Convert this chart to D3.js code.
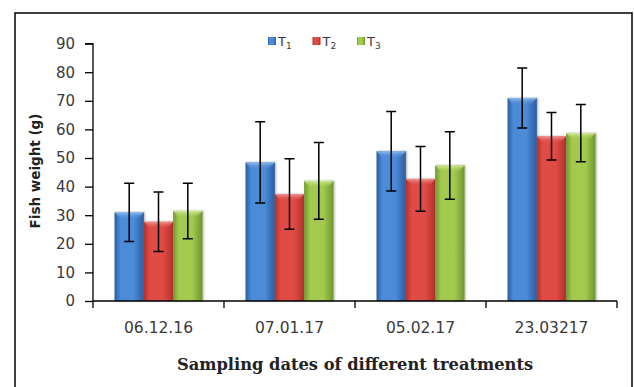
<!DOCTYPE html>
<html>
<head>
<meta charset="utf-8">
<script src="https://cdn.jsdelivr.net/npm/d3@7"></script>
<style>
  body { margin: 0; background: #fff; }
  svg { display: block; }
</style>
</head>
<body>
<svg class="chart" width="634" height="387"></svg>
<script>
// data
let dates = ["06.12.16", "07.01.17", "05.02.17", "23.03217"];
let treatments = ["T1", "T2", "T3"];
let t1Mean = [31, 48.5, 52.4, 71];
let t2Mean = [27.7, 37.4, 42.7, 57.6];
let t3Mean = [31.5, 42, 47.4, 58.7];
let t1Sd = [10.2, 14.2, 13.9, 10.5];
let t2Sd = [10.4, 12.3, 11.3, 8.3];
let t3Sd = [9.7, 13.4, 11.8, 10];
let yTicks = [0, 10, 20, 30, 40, 50, 60, 70, 80, 90];

let means = [t1Mean, t2Mean, t3Mean];
let sds = [t1Sd, t2Sd, t3Sd];

// colours: [edge, middle, highlight]
let colors = {
  T1: ["#2b5d9f", "#4b8bd8", "#9cc4f2"],
  T2: ["#b2302c", "#e04b45", "#f3a09c"],
  T3: ["#6f9630", "#a3ca4f", "#d8ef9c"]
};

let rows = [];
dates.forEach((d, i) => {
  treatments.forEach((t, j) => {
    rows.push({ date: d, key: t, value: means[j][i], sd: sds[j][i] });
  });
});

let svg = d3.select("svg.chart");

let margin = { top: 43.6, left: 93, right: 17, bottom: 86 };
let width = 634, height = 387;

// frame
svg.append("rect")
  .attr("x", 15).attr("y", 13)
  .attr("width", 617).attr("height", 380)
  .attr("fill", "none")
  .attr("stroke", "#000")
  .attr("stroke-width", 1.5);

let x0 = d3.scaleBand()
  .domain(dates)
  .range([margin.left, width - margin.right])
  .padding(0);

let x1 = d3.scaleBand()
  .domain(treatments)
  .range([0, x0.bandwidth()])
  .paddingInner(0)
  .paddingOuter(0.735);

let y = d3.scaleLinear()
  .domain([0, 90])
  .range([height - margin.bottom, margin.top]);

// gradients
let defs = svg.append("defs");
treatments.forEach(t => {
  let g = defs.append("linearGradient")
    .attr("id", "grad-" + t)
    .attr("x1", "0%").attr("x2", "100%").attr("y1", "0%").attr("y2", "0%");
  g.append("stop").attr("offset", "0%").attr("stop-color", colors[t][0]);
  g.append("stop").attr("offset", "20%").attr("stop-color", colors[t][1]);
  g.append("stop").attr("offset", "65%").attr("stop-color", colors[t][1]);
  g.append("stop").attr("offset", "100%").attr("stop-color", colors[t][0]);

  let h = defs.append("linearGradient")
    .attr("id", "top-" + t)
    .attr("x1", "0%").attr("x2", "0%").attr("y1", "0%").attr("y2", "100%");
  h.append("stop").attr("offset", "0%").attr("stop-color", colors[t][2]);
  h.append("stop").attr("offset", "100%").attr("stop-color", colors[t][1]).attr("stop-opacity", 0);
});

let blur = defs.append("filter").attr("id", "shadow")
  .attr("x", "-20%").attr("y", "-5%").attr("width", "140%").attr("height", "110%");
blur.append("feGaussianBlur").attr("in", "SourceAlpha").attr("stdDeviation", 1.2);
blur.append("feOffset").attr("dx", 1).attr("dy", 0).attr("result", "off");
blur.append("feComponentTransfer").append("feFuncA").attr("type", "linear").attr("slope", 0.35);
let merge = blur.append("feMerge");
merge.append("feMergeNode");
merge.append("feMergeNode").attr("in", "SourceGraphic");

// y axis
let yAxis = d3.axisLeft(y).tickValues(yTicks).tickSize(8).tickPadding(10);
let yGroup = svg.append("g")
  .attr("transform", translate(margin.left, 0))
  .call(yAxis);
yGroup.select(".domain").attr("stroke", "#000").attr("stroke-width", 1.3)
  .attr("d", `M-8,${y(90)}H0V${y(0)}`);
yGroup.selectAll(".tick line").attr("stroke", "#000").attr("stroke-width", 1.3);
yGroup.selectAll(".tick text")
  .attr("fill", "#3a3a3a")
  .style("font-family", "'DejaVu Sans', Verdana, sans-serif")
  .style("font-size", "15px");

// bars
let groups = svg.append("g").selectAll("g")
  .data(dates)
  .join("g")
  .attr("transform", d => translate(x0(d), 0));

let bars = groups.selectAll("g.bar")
  .data(d => rows.filter(r => r.date === d))
  .join("g")
  .attr("class", "bar");

bars.append("rect")
  .attr("x", d => x1(d.key))
  .attr("y", d => y(d.value))
  .attr("width", x1.bandwidth())
  .attr("height", d => y(0) - y(d.value))
  .attr("fill", d => "url(#grad-" + d.key + ")")
  .attr("filter", "url(#shadow)");

// top bevel
bars.append("path")
  .attr("d", d => {
    let bx = x1(d.key), by = y(d.value), w = x1.bandwidth();
    return `M${bx},${by}H${bx + w}L${bx + w - 6},${by + 7}H${bx + 6}Z`;
  })
  .attr("fill", d => "url(#top-" + d.key + ")")
  .attr("opacity", 0.9);

// error bars
let cap = 5;
bars.append("path")
  .attr("d", d => {
    let cx = x1(d.key) + x1.bandwidth() / 2;
    let hi = y(d.value + d.sd), lo = y(d.value - d.sd);
    return `M${cx - cap},${hi}H${cx + cap}M${cx},${hi}V${lo}M${cx - cap},${lo}H${cx + cap}`;
  })
  .attr("fill", "none")
  .attr("stroke", "#000")
  .attr("stroke-width", 1.5);

// x axis
let xAxis = d3.axisBottom(x0).tickSize(0).tickPadding(21);
let xGroup = svg.append("g")
  .attr("transform", translate(0, y(0)))
  .call(xAxis);
xGroup.select(".domain").attr("stroke", "#000").attr("stroke-width", 1.5)
  .attr("d", `M${margin.left},0H${width - margin.right}`);
xGroup.selectAll(".tick text")
  .attr("fill", "#3a3a3a")
  .style("font-family", "'DejaVu Sans', Verdana, sans-serif")
  .style("font-size", "15.5px");

// boundary ticks between categories
let bounds = dates.map(d => x0(d)).concat([x0.range()[1]]);
xGroup.selectAll("line.bound")
  .data(bounds)
  .join("line")
  .attr("class", "bound")
  .attr("x1", d => d).attr("x2", d => d)
  .attr("y1", 0).attr("y2", 7)
  .attr("stroke", "#000")
  .attr("stroke-width", 1.3);

// legend
let legend = svg.append("g").attr("transform", translate(268, 37));
let items = legend.selectAll("g")
  .data(treatments)
  .join("g")
  .attr("transform", (d, i) => translate(i * 44.5, 0));
items.append("rect")
  .attr("width", 8).attr("height", 8)
  .attr("fill", d => "url(#grad-" + d + ")");
let lt = items.append("text")
  .attr("x", 10).attr("y", 9)
  .attr("fill", "#3a3a3a")
  .style("font-family", "'DejaVu Sans', Verdana, sans-serif")
  .style("font-size", "13px");
lt.append("tspan").text("T");
lt.append("tspan").attr("dy", 3).style("font-size", "9px").text(d => d.slice(1));

// axis titles
svg.append("text")
  .attr("transform", "translate(40," + 171 + ") rotate(-90)")
  .attr("text-anchor", "middle")
  .attr("fill", "#222")
  .style("font-family", "'DejaVu Sans', Verdana, sans-serif")
  .style("font-weight", "bold")
  .style("font-size", "13.5px")
  .text("Fish weight (g)");

svg.append("text")
  .attr("x", 355).attr("y", 370)
  .attr("text-anchor", "middle")
  .attr("fill", "#222")
  .style("font-family", "'DejaVu Serif', 'Liberation Serif', serif")
  .style("font-weight", "bold")
  .style("font-size", "16.3px")
  .text("Sampling dates of different treatments");

function translate(x, y) {
  return 'translate(' + x + ',' + y + ')';
}
</script>
</body>
</html>
